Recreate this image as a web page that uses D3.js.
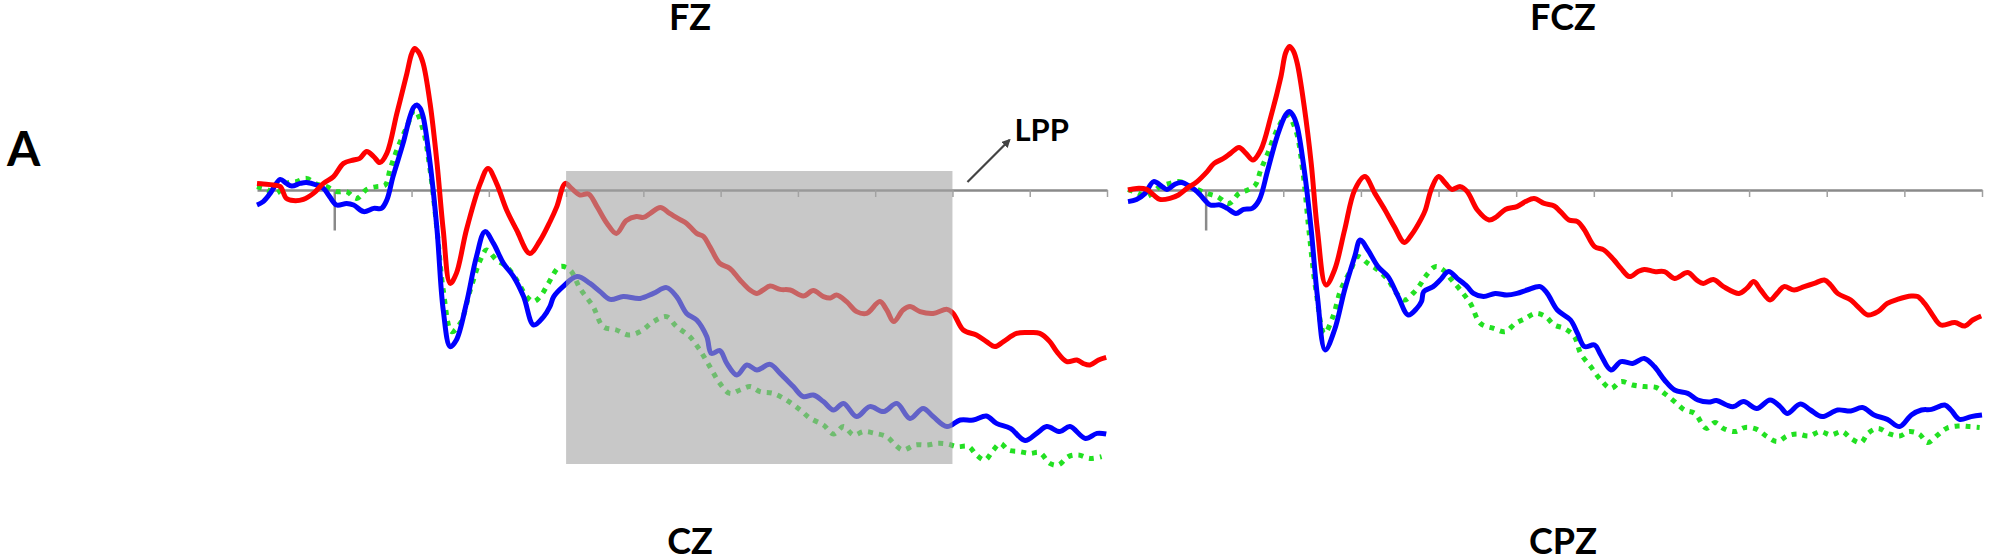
<!DOCTYPE html>
<html><head><meta charset="utf-8">
<script src="https://cdn.jsdelivr.net/npm/d3@7"></script>
<style>
html,body{margin:0;padding:0;background:#fff;}
svg{display:block;}
</style></head>
<body>
<svg id="chart" width="2000" height="555"></svg>
<script>
// ---- data (time in ms, amplitude in µV) ----
const timeDomain = [-100, 1000];
const tickTimes = [100, 200, 300, 400, 500, 600, 700, 800, 900, 1000];
const lppWindow = [300, 800];
const lppRange = [0.95, -13.7];
const topTitles = ["FZ", "FCZ"];
const bottomTitles = ["CZ", "CPZ"];
const panelLabel = "A";
const lppLabel = "LPP";

const fzRed = [[-100,0.33],[-92,0.30],[-79,0.25],[-70,0.17],[-62,-0.42],[-53,-0.53],[-40,-0.47],[-27,-0.17],[-14,0.33],[-1,0.67],[12,1.33],[25,1.5],[33,1.58],[42,1.92],[51,1.67],[59,1.37],[68,1.83],[81,3.83],[94,5.83],[100,6.8],[104,7.08],[109,6.9],[115,6.33],[124,4.33],[133,1.33],[141,-2.0],[150,-4.67],[158,-4.17],[171,-2.0],[189,0.33],[199,1.08],[210,0.33],[223,-1.0],[236,-2.0],[253,-3.17],[266,-2.55],[279,-1.6],[288,-0.83],[299,0.33],[307,0.08],[318,-0.25],[329,-0.2],[340,-0.83],[353,-1.67],[365,-2.17],[378,-1.53],[391,-1.33],[400,-1.37],[409,-1.17],[422,-0.87],[434,-1.17],[447,-1.47],[456,-1.67],[469,-2.17],[478,-2.33],[486,-2.83],[499,-3.67],[512,-3.92],[525,-4.5],[538,-5.0],[547,-5.17],[555,-5.0],[564,-4.8],[577,-4.97],[590,-5.0],[607,-5.3],[620,-5.03],[633,-5.33],[642,-5.4],[650,-5.25],[663,-5.58],[676,-6.08],[689,-6.17],[706,-5.58],[715,-6.0],[724,-6.58],[736,-6.0],[745,-5.83],[758,-6.08],[775,-6.17],[793,-5.97],[801,-6.17],[814,-7.0],[831,-7.25],[844,-7.58],[855,-7.83],[866,-7.58],[883,-7.17],[900,-7.13],[913,-7.17],[926,-7.58],[935,-8.08],[948,-8.58],[961,-8.5],[969,-8.67],[978,-8.75],[989,-8.5],[999,-8.37]];

const fzBlue = [[-100,-0.75],[-92,-0.58],[-83,-0.17],[-70,0.53],[-62,0.33],[-55,0.2],[-44,0.33],[-36,0.37],[-23,0.25],[-14,0.08],[-6,-0.33],[3,-0.75],[16,-0.67],[25,-0.75],[38,-1.08],[51,-0.92],[61,-0.92],[68,-0.5],[76,0.67],[89,2.33],[98,3.67],[103,4.15],[107,4.25],[111,4.1],[115,3.67],[124,1.33],[133,-2.0],[141,-6.0],[150,-7.83],[158,-7.5],[171,-5.67],[184,-3.33],[195,-2.08],[206,-2.67],[219,-3.67],[232,-4.33],[245,-5.33],[258,-6.75],[271,-6.33],[279,-5.83],[284,-5.33],[296,-4.83],[314,-4.33],[331,-4.67],[344,-5.08],[357,-5.47],[374,-5.33],[396,-5.42],[413,-5.17],[430,-4.88],[443,-5.33],[456,-6.17],[469,-6.5],[482,-7.33],[488,-8.17],[499,-8.03],[508,-8.67],[521,-9.25],[534,-8.75],[547,-9.0],[564,-8.72],[577,-9.17],[594,-9.83],[607,-10.33],[620,-10.25],[633,-10.58],[646,-11.0],[659,-10.67],[676,-11.33],[693,-10.83],[711,-11.08],[728,-10.67],[745,-11.42],[762,-10.92],[775,-11.33],[793,-11.83],[810,-11.5],[827,-11.5],[844,-11.3],[857,-11.67],[875,-11.92],[894,-12.53],[909,-12.17],[922,-11.83],[939,-12.08],[952,-11.83],[972,-12.42],[987,-12.17],[999,-12.2]];

const fzGreen = [[-100,0.17],[-88,0.03],[-75,-0.17],[-62,0.33],[-49,0.42],[-36,0.58],[-23,0.3],[-10,0.17],[3,-0.08],[16,-0.08],[29,-0.42],[42,0.03],[55,0.17],[66,0.25],[72,1.0],[81,2.0],[94,3.17],[104,4.0],[115,3.0],[124,1.0],[133,-2.0],[141,-5.0],[152,-7.08],[163,-6.67],[176,-5.0],[189,-3.5],[197,-3.0],[210,-3.5],[223,-3.83],[236,-4.5],[249,-5.33],[258,-5.58],[268,-5.25],[277,-4.67],[292,-3.83],[305,-4.0],[318,-4.92],[335,-5.83],[348,-6.83],[365,-7.0],[381,-7.25],[396,-7.08],[413,-6.58],[430,-6.33],[443,-6.83],[460,-7.33],[473,-8.0],[486,-8.83],[499,-9.67],[512,-10.17],[525,-10.0],[538,-9.83],[551,-10.08],[568,-10.17],[585,-10.5],[603,-11.0],[616,-11.42],[633,-11.75],[646,-12.2],[659,-11.83],[672,-12.25],[685,-12.08],[700,-12.17],[715,-12.33],[726,-12.75],[736,-13.0],[752,-12.75],[767,-12.75],[780,-12.67],[793,-12.7],[806,-12.83],[821,-12.83],[831,-13.25],[842,-13.5],[853,-13.0],[862,-12.67],[872,-13.0],[887,-13.08],[900,-13.17],[913,-13.13],[926,-13.67],[937,-13.75],[950,-13.33],[963,-13.25],[978,-13.42],[993,-13.33]];

const fczRed = [[-100,0.0],[-89,0.08],[-76,0.03],[-67,-0.25],[-59,-0.47],[-46,-0.42],[-35,-0.25],[-24,0.08],[-11,0.42],[2,0.92],[11,1.33],[23,1.58],[32,1.83],[43,2.13],[52,1.83],[61,1.5],[71,2.0],[84,3.67],[97,5.67],[103,6.85],[108,7.17],[113,6.95],[118,6.33],[127,4.17],[136,1.33],[144,-2.0],[155,-4.75],[166,-4.0],[179,-2.0],[192,0.0],[205,0.67],[218,-0.17],[231,-1.0],[243,-1.83],[256,-2.62],[265,-2.25],[278,-1.42],[283,-1.0],[291,0.08],[300,0.67],[309,0.33],[317,0.03],[328,0.17],[337,-0.08],[350,-1.0],[365,-1.5],[375,-1.33],[386,-0.97],[401,-0.83],[412,-0.58],[423,-0.42],[436,-0.67],[449,-0.8],[457,-1.08],[468,-1.5],[479,-1.58],[488,-2.0],[501,-2.83],[513,-3.0],[526,-3.5],[535,-3.92],[546,-4.33],[557,-4.08],[565,-3.97],[578,-4.08],[591,-4.08],[604,-4.42],[621,-4.13],[633,-4.52],[641,-4.67],[654,-4.47],[667,-4.83],[687,-5.17],[697,-4.92],[706,-4.58],[715,-5.0],[727,-5.5],[736,-5.17],[745,-4.83],[758,-5.0],[771,-4.83],[784,-4.67],[797,-4.5],[805,-4.75],[814,-5.17],[831,-5.5],[840,-5.83],[853,-6.25],[866,-6.08],[878,-5.67],[891,-5.47],[909,-5.3],[917,-5.33],[926,-5.67],[935,-6.17],[947,-6.75],[965,-6.63],[978,-6.8],[988,-6.5],[999,-6.3]];

const fczBlue = [[-100,-0.58],[-89,-0.47],[-78,-0.17],[-67,0.42],[-56,0.17],[-50,0.03],[-39,0.3],[-31,0.37],[-20,0.17],[-11,-0.08],[-3,-0.42],[6,-0.75],[19,-0.75],[28,-0.92],[39,-1.17],[49,-0.97],[60,-0.92],[69,-0.5],[80,1.0],[92,2.67],[103,3.75],[108,3.92],[113,3.7],[118,3.17],[127,1.0],[136,-2.0],[144,-5.33],[154,-8.0],[166,-7.0],[179,-5.0],[192,-3.33],[199,-2.5],[209,-3.0],[222,-3.83],[235,-4.33],[248,-5.33],[261,-6.25],[272,-5.92],[278,-5.58],[281,-5.08],[293,-4.83],[302,-4.5],[313,-4.08],[324,-4.42],[337,-4.83],[345,-5.17],[358,-5.33],[373,-5.17],[388,-5.25],[401,-5.17],[414,-5.0],[431,-4.83],[440,-5.17],[453,-6.0],[470,-6.5],[479,-7.17],[488,-7.83],[501,-7.75],[509,-8.25],[522,-9.0],[535,-8.58],[550,-8.67],[565,-8.42],[578,-8.83],[591,-9.5],[604,-10.0],[621,-10.17],[634,-10.5],[648,-10.6],[658,-10.53],[671,-10.75],[680,-10.83],[693,-10.58],[710,-10.92],[727,-10.5],[740,-10.83],[749,-11.17],[766,-10.7],[779,-11.0],[794,-11.33],[814,-11.0],[831,-11.05],[846,-10.88],[861,-11.25],[878,-11.47],[894,-11.83],[909,-11.25],[922,-11.0],[935,-10.97],[952,-10.75],[960,-11.0],[971,-11.47],[986,-11.33],[1000,-11.25]];

const fczGreen = [[-100,0.03],[-89,-0.13],[-76,-0.33],[-67,-0.08],[-59,0.17],[-46,0.33],[-33,0.42],[-22,0.2],[-11,0.03],[2,-0.17],[15,-0.33],[30,-0.67],[43,-0.17],[54,0.0],[64,0.25],[71,1.0],[80,1.83],[92,3.0],[105,3.75],[116,3.0],[125,1.0],[133,-2.0],[142,-5.0],[153,-7.17],[164,-6.33],[174,-5.0],[187,-4.0],[196,-3.33],[209,-3.67],[222,-4.0],[235,-4.5],[246,-5.17],[256,-5.5],[267,-5.17],[276,-4.75],[283,-4.33],[296,-3.83],[306,-4.0],[317,-4.5],[328,-5.0],[341,-5.67],[354,-6.67],[371,-6.92],[386,-7.08],[399,-6.67],[412,-6.42],[425,-6.17],[438,-6.33],[449,-6.75],[462,-6.92],[475,-7.33],[483,-8.17],[496,-8.83],[509,-9.5],[522,-9.92],[535,-9.58],[550,-9.75],[565,-9.83],[580,-9.87],[591,-10.17],[604,-10.58],[617,-11.0],[630,-11.17],[645,-11.92],[656,-11.63],[667,-11.92],[682,-12.08],[695,-11.87],[710,-11.97],[723,-12.33],[736,-12.58],[749,-12.3],[762,-12.2],[777,-12.3],[792,-12.08],[805,-12.25],[820,-12.08],[831,-12.42],[844,-12.63],[853,-12.17],[866,-11.92],[881,-12.2],[894,-12.3],[906,-12.08],[919,-12.2],[930,-12.63],[943,-12.25],[954,-11.92],[969,-11.8],[984,-11.83],[997,-11.87]];

// ---- layout ----
const svg = d3.select("#chart");
const y = d3.scaleLinear().domain([8, -14]).range([30, 470]);
const panels = [
  {title: topTitles[0], bottom: bottomTitles[0], range: [257, 1107], red: fzRed, blue: fzBlue, green: fzGreen, box: true},
  {title: topTitles[1], bottom: bottomTitles[1], range: [1128, 1982], red: fczRed, blue: fczBlue, green: fczGreen, box: false}
];
const font = "Lato, 'Open Sans', sans-serif";

svg.append("text").attr("x", 7).attr("y", 166).attr("font-family", font)
  .attr("font-weight", 700).attr("font-size", 48).attr("fill", "#000").text(panelLabel);

const defs = svg.append("defs");
defs.append("marker").attr("id", "ah").attr("viewBox", "0 0 10 10").attr("refX", 8).attr("refY", 5)
  .attr("markerWidth", 4).attr("markerHeight", 4).attr("orient", "auto")
  .append("path").attr("d", "M0,0L10,5L0,10z").attr("fill", "#444");

panels.forEach(p => {
  const x = d3.scaleLinear().domain(timeDomain).range(p.range);
  const g = svg.append("g");
  const cx = (p.range[0] + p.range[1]) / 2 + 8;

  // zero line with ticks
  const ax = g.append("g").attr("transform", `translate(0,${y(0)})`)
    .call(d3.axisBottom(x).tickValues(tickTimes).tickSize(7).tickSizeOuter(0).tickFormat(""));
  ax.select(".domain").attr("stroke", "#8a8a8a").attr("stroke-width", 2.5);
  ax.selectAll(".tick line").attr("stroke", "#a0a0a0").attr("stroke-width", 1.5);

  // short vertical y-axis
  const ys = d3.scaleLinear().domain([0, -2]).range([y(0), y(-2)]);
  const ay = g.append("g").attr("transform", `translate(${x(0)},0)`)
    .call(d3.axisLeft(ys).tickValues([]).tickSizeOuter(0));
  ay.select(".domain").attr("stroke", "#8a8a8a").attr("stroke-width", 2.5);

  const line = d3.line().x(d => x(d[0])).y(d => y(d[1])).curve(d3.curveCatmullRom.alpha(0.5));
  g.append("path").datum(p.green).attr("d", line).attr("fill", "none")
    .attr("stroke", "#22e022").attr("stroke-width", 5).attr("stroke-dasharray", "5 6");
  g.append("path").datum(p.blue).attr("d", line).attr("fill", "none")
    .attr("stroke", "#0000ff").attr("stroke-width", 5).attr("stroke-linejoin", "round");
  g.append("path").datum(p.red).attr("d", line).attr("fill", "none")
    .attr("stroke", "#ff0000").attr("stroke-width", 5).attr("stroke-linejoin", "round");

  if (p.box) {
    g.append("rect").attr("x", x(lppWindow[0])).attr("y", y(lppRange[0]))
      .attr("width", x(lppWindow[1]) - x(lppWindow[0])).attr("height", y(lppRange[1]) - y(lppRange[0]))
      .attr("fill", "rgb(164,164,164)").attr("fill-opacity", 0.6);
    g.append("line").attr("x1", x(lppWindow[1]) + 15).attr("y1", y(lppRange[0]) + 11)
      .attr("x2", x(lppWindow[1]) + 57).attr("y2", y(lppRange[0]) - 31)
      .attr("stroke", "#444").attr("stroke-width", 2.2).attr("marker-end", "url(#ah)");
    g.append("text").attr("x", x(lppWindow[1]) + 62).attr("y", 141).attr("font-family", font)
      .attr("font-weight", 700).attr("font-size", 31).attr("fill", "#000").text(lppLabel);
  }

  g.append("text").attr("x", cx).attr("y", 30).attr("text-anchor", "middle").attr("font-family", font)
    .attr("font-weight", 700).attr("font-size", 36).attr("fill", "#000").text(p.title);
  g.append("text").attr("x", cx).attr("y", 554).attr("text-anchor", "middle").attr("font-family", font)
    .attr("font-weight", 700).attr("font-size", 36).attr("fill", "#000").text(p.bottom);
});
</script>
</body></html>
